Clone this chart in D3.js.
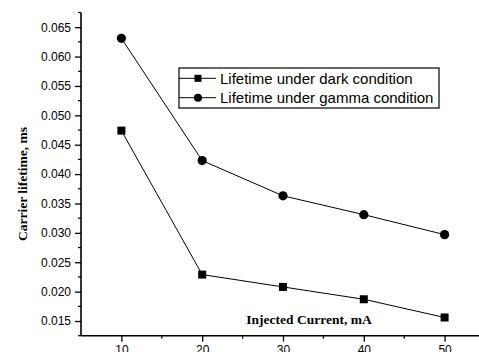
<!DOCTYPE html>
<html><head><meta charset="utf-8">
<script src="https://cdn.jsdelivr.net/npm/d3@7"></script>
<style>html,body{margin:0;padding:0;background:#fff;overflow:hidden}</style>
</head><body>
<svg id="c" width="479" height="352"></svg>
<script>
const currents = [10, 20, 30, 40, 50];
const darkLifetime = [0.0474, 0.0229, 0.0208, 0.0187, 0.0156];
const gammaLifetime = [0.0631, 0.0423, 0.0363, 0.0331, 0.0297];
const xTicks = [10, 20, 30, 40, 50];
const yTicks = [0.015, 0.020, 0.025, 0.030, 0.035, 0.040, 0.045, 0.050, 0.055, 0.060, 0.065];
const seriesNames = ["Lifetime under dark condition", "Lifetime under gamma condition"];

const svg = d3.select("#c");
const x = d3.scaleLinear().domain([5, 55]).range([81, 485]);
const y = d3.scaleLinear().domain([0.0125, 0.0675]).range([335.7, 12.5]);

// Y axis
const yAxis = d3.axisLeft(y).tickValues(yTicks).tickFormat(d3.format(".3f")).tickSize(6).tickPadding(4);
const gy = svg.append("g").attr("transform", "translate(81,0)").call(yAxis);
gy.select(".domain").attr("d", `M0,${y.range()[0]}V${y.range()[1]}`).attr("stroke", "#000").attr("stroke-width", 1.6);
gy.selectAll(".tick line").attr("stroke-width", 1.3);
gy.selectAll("text").attr("font-family", "Liberation Sans, Arial, sans-serif").attr("font-size", 12).attr("fill", "#000");
const yMinor = d3.range(0.0125, 0.0676, 0.005);
gy.selectAll(".minor").data(yMinor).enter().append("line").attr("class", "minor")
  .attr("x1", -3).attr("x2", 0).attr("y1", d => y(d)).attr("y2", d => y(d)).attr("stroke", "#000").attr("stroke-width", 1.2);

// X axis
const xAxis = d3.axisBottom(x).tickValues(xTicks).tickSize(6).tickPadding(4);
const gx = svg.append("g").attr("transform", "translate(0,335.7)").call(xAxis);
gx.select(".domain").attr("d", `M${x.range()[0]},0H${x.range()[1]}`).attr("stroke", "#000").attr("stroke-width", 1.6);
gx.selectAll(".tick line").attr("stroke-width", 1.3);
gx.selectAll("text").attr("font-family", "Liberation Sans, Arial, sans-serif").attr("font-size", 12).attr("fill", "#000");
const xMinor = [15, 25, 35, 45];
gx.selectAll(".minor").data(xMinor).enter().append("line").attr("class", "minor")
  .attr("x1", d => x(d)).attr("x2", d => x(d)).attr("y1", 0).attr("y2", 3).attr("stroke", "#000").attr("stroke-width", 1.2);

// Axis titles
svg.append("text").attr("transform", "translate(26.5,184) rotate(-90)").attr("text-anchor", "middle")
  .attr("font-family", "Liberation Serif, Times New Roman, serif").attr("font-weight", "bold").attr("font-size", 13.5)
  .text("Carrier lifetime, ms");
svg.append("text").attr("x", 309).attr("y", 324).attr("text-anchor", "middle")
  .attr("font-family", "Liberation Serif, Times New Roman, serif").attr("font-weight", "bold").attr("font-size", 13.5)
  .text("Injected Current, mA");

const line = d3.line().x((d, i) => x(currents[i])).y(d => y(d));
svg.append("path").datum(darkLifetime).attr("d", line).attr("fill", "none").attr("stroke", "#000").attr("stroke-width", 1);
svg.append("path").datum(gammaLifetime).attr("d", line).attr("fill", "none").attr("stroke", "#000").attr("stroke-width", 1);

svg.selectAll(".sq").data(darkLifetime).enter().append("rect").attr("class", "sq")
  .attr("x", (d, i) => x(currents[i]) - 4).attr("y", d => y(d) - 4).attr("width", 8).attr("height", 8).attr("fill", "#000");
svg.selectAll(".ci").data(gammaLifetime).enter().append("circle").attr("class", "ci")
  .attr("cx", (d, i) => x(currents[i])).attr("cy", d => y(d)).attr("r", 4.6).attr("fill", "#000");

// Legend
const lg = svg.append("g");
lg.append("rect").attr("x", 179).attr("y", 68).attr("width", 260).attr("height", 40)
  .attr("fill", "#fff").attr("stroke", "#000").attr("stroke-width", 1.2);
const rows = [78.3, 97.7];
seriesNames.forEach((name, i) => {
  lg.append("line").attr("x1", 179).attr("x2", 216).attr("y1", rows[i]).attr("y2", rows[i]).attr("stroke", "#000").attr("stroke-width", 1);
  if (i === 0) lg.append("rect").attr("x", 194.5).attr("y", rows[i] - 3.5).attr("width", 7).attr("height", 7).attr("fill", "#000");
  else lg.append("circle").attr("cx", 198).attr("cy", rows[i]).attr("r", 4).attr("fill", "#000");
  lg.append("text").attr("x", 220).attr("y", rows[i] + 5.5).attr("font-family", "Liberation Sans, Arial, sans-serif")
    .attr("font-size", 15).text(name);
});
</script>
</body></html>
